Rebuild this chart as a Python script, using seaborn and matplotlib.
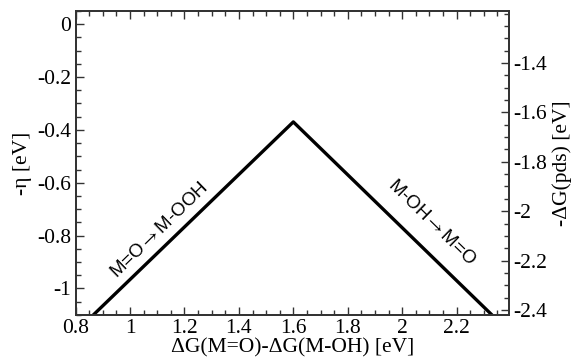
import numpy as np
import pandas as pd
import matplotlib
matplotlib.use("Agg")
import matplotlib.pyplot as plt
import seaborn as sns
from matplotlib.ticker import MultipleLocator

# data
dG_diff = [0.865, 1.6, 2.33]          # ΔG(M=O)-ΔG(M-OH) [eV]
neg_eta = [-1.1, -0.37, -1.1]          # -η [eV]
x_ticks = [0.8, 1.0, 1.2, 1.4, 1.6, 1.8, 2.0, 2.2]
x_tick_labels = ["0.8", "1", "1.2", "1.4", "1.6", "1.8", "2", "2.2"]
y_ticks = [0, -0.2, -0.4, -0.6, -0.8, -1.0]
y_tick_labels = ["0", "-0.2", "-0.4", "-0.6", "-0.8", "-1"]
y2_ticks = [-1.4, -1.6, -1.8, -2.0, -2.2, -2.4]
y2_tick_labels = ["-1.4", "-1.6", "-1.8", "-2", "-2.2", "-2.4"]
label_left = r"M=O$\rightarrow$M-OOH"
label_right = r"M-OH$\rightarrow$M=O"

sns.set_style("ticks")
plt.rcParams["font.family"] = ["Liberation Serif", "DejaVu Serif"]
plt.rcParams["mathtext.fontset"] = "stix"
for k in ["text.color", "axes.labelcolor", "xtick.labelcolor", "ytick.labelcolor"]:
    plt.rcParams[k] = "black"

fig = plt.figure(figsize=(5.73, 3.62), dpi=100)
ax = fig.add_axes([0.132, 0.130, 0.756, 0.840])

df = pd.DataFrame({"x": dG_diff, "y": neg_eta})
sns.lineplot(data=df, x="x", y="y", ax=ax, color="black", linewidth=2.4,
             sort=False, estimator=None)

ax.set_xlim(0.8, 2.392)
ax.set_ylim(-1.1, 0.05)
ax.set_xticks(x_ticks)
ax.set_xticklabels(x_tick_labels)
ax.set_yticks(y_ticks)
ax.set_yticklabels(y_tick_labels)
ax.xaxis.set_minor_locator(MultipleLocator(0.05))
ax.yaxis.set_minor_locator(MultipleLocator(0.05))

fs = 15.5
ax.tick_params(axis="both", which="major", direction="in", length=6, width=1,
               labelsize=fs, color="#333333", labelcolor="black", pad=3)
ax.tick_params(axis="both", which="minor", direction="in", length=3.5, width=1,
               color="#333333")
ax.tick_params(axis="x", which="both", top=True)
ax.tick_params(axis="y", which="both", right=False)

ax.set_xlabel("ΔG(M=O)-ΔG(M-OH) [eV]", fontsize=fs, labelpad=0, color="black")
ax.set_ylabel("-η [eV]", fontsize=fs, labelpad=4, color="black")

for sp in ax.spines.values():
    sp.set_visible(True)
    sp.set_linewidth(1.3)
    sp.set_color("#333333")

ax2 = ax.twinx()
ax2.set_ylim(-2.42, -1.189)
ax2.set_yticks(y2_ticks)
ax2.set_yticklabels(y2_tick_labels)
ax2.yaxis.set_minor_locator(MultipleLocator(0.05))
ax2.tick_params(axis="y", which="major", direction="in", length=6, width=1,
                labelsize=fs, color="#333333", labelcolor="black", pad=3)
ax2.tick_params(axis="y", which="minor", direction="in", length=3.5, width=1,
                color="#333333")
ax2.set_ylabel("-ΔG(pds) [eV]", fontsize=fs, labelpad=4, color="black")
for sp in ax2.spines.values():
    sp.set_linewidth(1.3)
    sp.set_color("#333333")

ax.text(1.11, -0.78, label_left, rotation=44.3, rotation_mode="anchor",
        ha="center", va="center", fontsize=13.5, color="black",
        family=["Liberation Sans", "DejaVu Sans"])
ax.text(2.11, -0.75, label_right, rotation=-44.3, rotation_mode="anchor",
        ha="center", va="center", fontsize=13.5, color="black",
        family=["Liberation Sans", "DejaVu Sans"])

fig.savefig("out.png", dpi=100)
